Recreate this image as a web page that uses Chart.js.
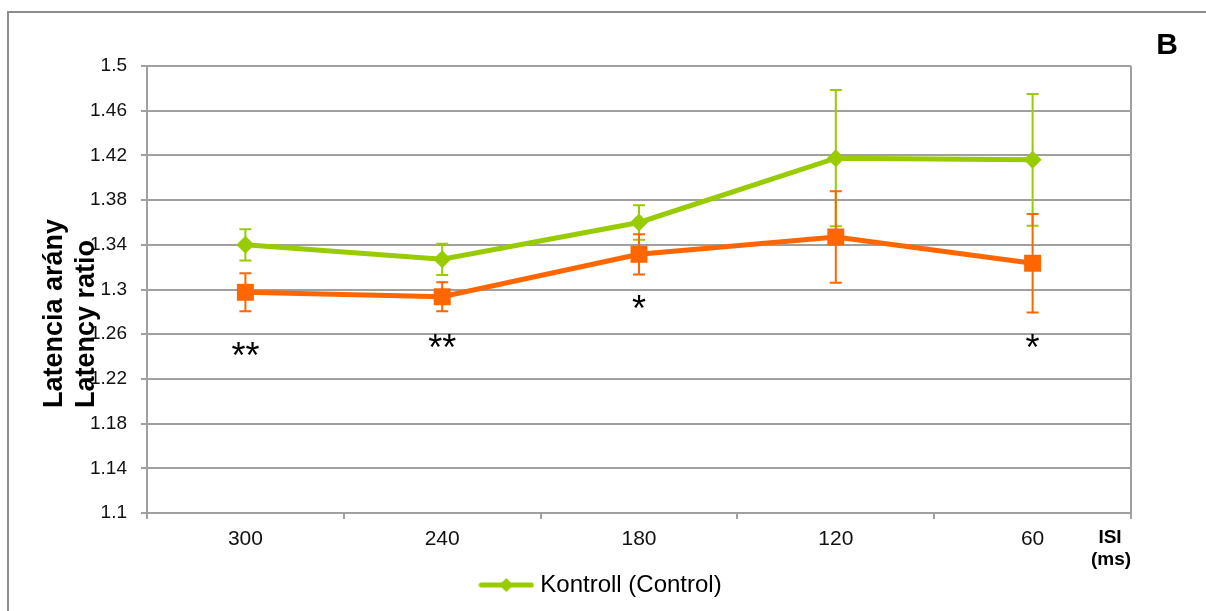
<!DOCTYPE html>
<html>
<head>
<meta charset="utf-8">
<script src="https://cdn.jsdelivr.net/npm/chart.js@4.4.0/dist/chart.umd.min.js"></script>
<style>
  html, body { margin: 0; padding: 0; background: #fff; }
  #wrap { position: relative; width: 1206px; height: 611px; }
</style>
</head>
<body>
<div id="wrap"><canvas id="chart" width="1206" height="611"></canvas></div>
<script>
// ISI categories
const isiLabels = ['300', '240', '180', '120', '60'];

// Kontroll (Control) series + error
const controlValues = [1.340, 1.327, 1.360, 1.4175, 1.416];
const controlErr = [0.014, 0.014, 0.0155, 0.061, 0.059];

// second group (orange)
const groupValues = [1.2975, 1.2935, 1.3315, 1.347, 1.3235];
const groupErr = [0.017, 0.013, 0.018, 0.041, 0.044];

// significance marks (value = centre of the glyph)
const starText = ['**', '**', '*', '', '*'];
const starLevel = [1.245, 1.2515, 1.287, null, 1.2515];

const yTicks = [1.1, 1.14, 1.18, 1.22, 1.26, 1.3, 1.34, 1.38, 1.42, 1.46, 1.5];

const green = '#99cc00';
const orange = '#ff6600';
const gridGray = '#a0a0a0';
const FONT = '"Liberation Sans", Arial, sans-serif';

// legend sample: line with diamond
const legendIcon = document.createElement('canvas');
legendIcon.width = 56;
legendIcon.height = 18;
(function () {
    const c = legendIcon.getContext('2d');
    c.strokeStyle = green;
    c.lineWidth = 5;
    c.lineCap = 'round';
    c.beginPath();
    c.moveTo(3, 9);
    c.lineTo(53, 9);
    c.stroke();
    c.fillStyle = green;
    c.beginPath();
    c.moveTo(28, 2);
    c.lineTo(35, 9);
    c.lineTo(28, 16);
    c.lineTo(21, 9);
    c.closePath();
    c.fill();
})();

const errorBars = {
    id: 'errorBars',
    afterDatasetsDraw(chart) {
        const ctx = chart.ctx;
        const x = chart.scales.x, y = chart.scales.y;
        chart.data.datasets.forEach(ds => {
            ctx.save();
            ctx.strokeStyle = ds.borderColor;
            ctx.lineWidth = 2;
            ds.data.forEach((v, i) => {
                const e = ds.errors[i];
                const px = x.getPixelForValue(i);
                const top = y.getPixelForValue(v + e);
                const bot = y.getPixelForValue(v - e);
                ctx.beginPath();
                ctx.moveTo(px, top); ctx.lineTo(px, bot);
                ctx.moveTo(px - 6, top); ctx.lineTo(px + 6, top);
                ctx.moveTo(px - 6, bot); ctx.lineTo(px + 6, bot);
                ctx.stroke();
            });
            ctx.restore();
        });
    }
};

const decorations = {
    id: 'decorations',
    beforeDraw(chart) {
        const ctx = chart.ctx;
        ctx.save();
        ctx.strokeStyle = '#8c8c8c';
        ctx.lineWidth = 2;
        ctx.beginPath();
        ctx.moveTo(8, 611); ctx.lineTo(8, 12); ctx.lineTo(1206, 12);
        ctx.stroke();
        ctx.restore();
    },
    afterDraw(chart) {
        const ctx = chart.ctx;
        const a = chart.chartArea;
        const x = chart.scales.x, y = chart.scales.y;
        ctx.save();
        // plot frame right side
        ctx.strokeStyle = gridGray;
        ctx.lineWidth = 2;
        ctx.beginPath();
        ctx.moveTo(a.right, a.top); ctx.lineTo(a.right, a.bottom);
        ctx.stroke();

        ctx.fillStyle = '#000';
        // stars
        const starSize = 36;
        ctx.font = starSize + 'px ' + FONT;
        ctx.textAlign = 'center';
        ctx.textBaseline = 'alphabetic';
        starText.forEach((s, i) => {
            if (!s) return;
            ctx.fillText(s, x.getPixelForValue(i), y.getPixelForValue(starLevel[i]) + 0.46 * starSize);
        });

        ctx.textBaseline = 'middle';
        // panel letter
        ctx.font = 'bold 30px ' + FONT;
        ctx.fillText('B', 1167, 46);

        // ISI (ms)
        ctx.font = 'bold 19px ' + FONT;
        ctx.fillText('ISI', 1110, 538);
        ctx.fillText('(ms)', 1111, 560);

        // y axis title, two lines
        ctx.font = 'bold 27px ' + FONT;
        ctx.textAlign = 'left';
        ctx.textBaseline = 'alphabetic';
        ctx.translate(62, 408);
        ctx.rotate(-Math.PI / 2);
        ctx.fillText('Latencia arány', 0, 0);
        ctx.fillText('Latency ratio', 0, 32);
        ctx.restore();
    }
};

new Chart(document.getElementById('chart'), {
    type: 'line',
    data: {
        labels: isiLabels,
        datasets: [{
            label: 'Kontroll (Control)',
            data: controlValues,
            errors: controlErr,
            borderColor: green,
            backgroundColor: green,
            borderWidth: 5,
            pointStyle: 'rectRot',
            pointRadius: 9,
            pointBorderWidth: 0,
            order: 1
        }, {
            label: 'Diszlexiás (Dyslexic)',
            data: groupValues,
            errors: groupErr,
            borderColor: orange,
            backgroundColor: orange,
            borderWidth: 5,
            pointStyle: 'rect',
            pointRadius: 12,
            pointBorderWidth: 0,
            order: 0
        }]
    },
    options: {
        responsive: false,
        animation: false,
        layout: { padding: { top: 66, right: 75, left: 75, bottom: 4 } },
        plugins: {
            tooltip: { enabled: false },
            legend: {
                position: 'bottom',
                labels: {
                    usePointStyle: true,
                    pointStyleWidth: 44,
                    boxHeight: 18,
                    color: '#000',
                    padding: 10,
                    font: { family: FONT, size: 24 },
                    generateLabels: chart => [{
                        text: chart.data.datasets[0].label,
                        pointStyle: legendIcon,
                        fillStyle: green,
                        strokeStyle: green,
                        lineWidth: 0,
                        datasetIndex: 0
                    }]
                }
            }
        },
        scales: {
            x: {
                offset: true,
                afterFit: s => { s.height = 50; },
                grid: {
                    offset: true,
                    drawOnChartArea: false,
                    tickLength: 6,
                    color: gridGray,
                    lineWidth: 2
                },
                border: { color: gridGray, width: 2 },
                ticks: {
                    color: '#111',
                    padding: 8,
                    maxRotation: 0,
                    font: { family: FONT, size: 21 }
                }
            },
            y: {
                min: 1.1,
                max: 1.5,
                afterFit: s => { s.width = 72; },
                afterBuildTicks: s => { s.ticks = yTicks.map(v => ({ value: v })); },
                grid: {
                    color: gridGray,
                    lineWidth: 2,
                    tickLength: 6
                },
                border: { color: gridGray, width: 2 },
                ticks: {
                    color: '#111',
                    padding: 14,
                    font: { family: FONT, size: 19 },
                    callback: v => String(Number(v.toFixed(2)))
                }
            }
        }
    },
    plugins: [errorBars, decorations]
});
</script>
</body>
</html>
